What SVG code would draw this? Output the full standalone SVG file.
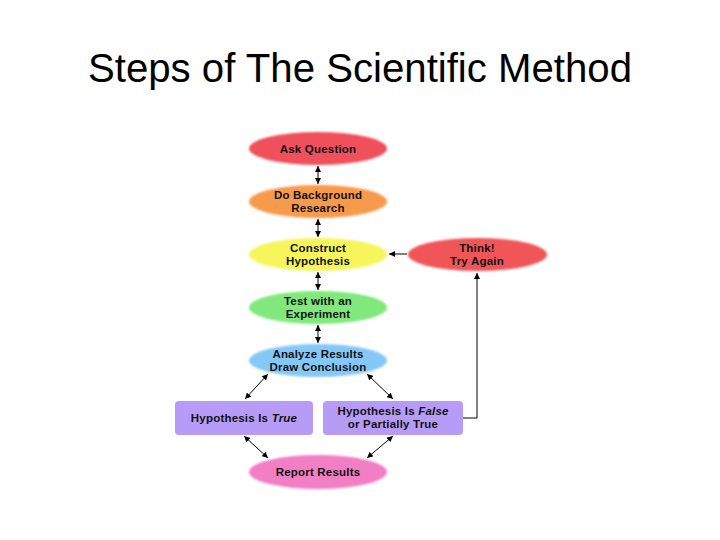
<svg xmlns="http://www.w3.org/2000/svg" width="720" height="540" viewBox="0 0 720 540">
<defs>
<marker id="ah" viewBox="0 0 10 10" refX="10" refY="5" markerWidth="6" markerHeight="6" markerUnits="userSpaceOnUse" orient="auto-start-reverse">
<path d="M0,0 L10,5 L0,10 z" fill="#000"/>
</marker>
<filter id="soft" x="-10%" y="-20%" width="120%" height="140%"><feGaussianBlur stdDeviation="0.8"/></filter>
</defs>
<style>
.t{font-family:"Liberation Sans",Arial,sans-serif;font-weight:bold;font-size:11.5px;fill:#111;text-anchor:middle;letter-spacing:0.2px}
.title{font-family:"Liberation Sans",Arial,sans-serif;font-size:40px;fill:#000;text-anchor:middle}
.c{stroke:#000;stroke-width:1;fill:none;marker-start:url(#ah);marker-end:url(#ah)}
.c1{stroke:#000;stroke-width:1;fill:none;marker-end:url(#ah)}
</style>
<rect width="720" height="540" fill="#fff"/>
<text class="title" x="360" y="82" textLength="544" lengthAdjust="spacingAndGlyphs">Steps of The Scientific Method</text>
<g id="connectors">
<line class="c" x1="318" y1="166" x2="318" y2="184"/>
<line class="c" x1="318" y1="219" x2="318" y2="237"/>
<line class="c" x1="318" y1="272" x2="318" y2="290"/>
<line class="c" x1="318" y1="325" x2="318" y2="343"/>
<line class="c1" x1="407" y1="254" x2="389" y2="254"/>
<polyline class="c1" points="463,418 477,418 477,273"/>
<line class="c" x1="268" y1="374" x2="245" y2="399"/>
<line class="c" x1="367" y1="374" x2="393" y2="399"/>
<line class="c" x1="244" y1="436" x2="268" y2="458"/>
<line class="c" x1="393" y1="436" x2="367" y2="458"/>
</g>
<g id="ask"><ellipse cx="318" cy="148.5" rx="69" ry="16.5" fill="#f0505c" filter="url(#soft)"/><text class="t" x="318" y="152.5">Ask Question</text></g>
<g id="background"><ellipse cx="318" cy="201.5" rx="69" ry="16.5" fill="#f89a4c" filter="url(#soft)"/><text class="t" x="318" y="199">Do Background</text><text class="t" x="318" y="212">Research</text></g>
<g id="hypothesis"><ellipse cx="318" cy="254.5" rx="69" ry="16.5" fill="#f6f65c" filter="url(#soft)"/><text class="t" x="318" y="252">Construct</text><text class="t" x="318" y="265">Hypothesis</text></g>
<g id="experiment"><ellipse cx="318" cy="307.5" rx="69" ry="16.5" fill="#80e87c" filter="url(#soft)"/><text class="t" x="318" y="305">Test with an</text><text class="t" x="318" y="318">Experiment</text></g>
<g id="analyze"><ellipse cx="318" cy="360.5" rx="69" ry="16.5" fill="#84c8f8" filter="url(#soft)"/><text class="t" x="318" y="358">Analyze Results</text><text class="t" x="318" y="371">Draw Conclusion</text></g>
<g id="think"><ellipse cx="477.5" cy="254.5" rx="69.5" ry="16.5" fill="#f05458" filter="url(#soft)"/><text class="t" x="477" y="252">Think!</text><text class="t" x="477" y="265">Try Again</text></g>
<g id="true"><rect x="175" y="401" width="138" height="34" rx="4" fill="#b69cf6"/><text class="t" x="244" y="422">Hypothesis Is <tspan font-style="italic">True</tspan></text></g>
<g id="false"><rect x="323" y="401" width="140" height="34" rx="4" fill="#b69cf6"/><text class="t" x="393" y="415">Hypothesis Is <tspan font-style="italic">False</tspan></text><text class="t" x="393" y="428">or Partially True</text></g>
<g id="report"><ellipse cx="318" cy="472" rx="69" ry="17" fill="#f27ec4" filter="url(#soft)"/><text class="t" x="318" y="476">Report Results</text></g>
</svg>
